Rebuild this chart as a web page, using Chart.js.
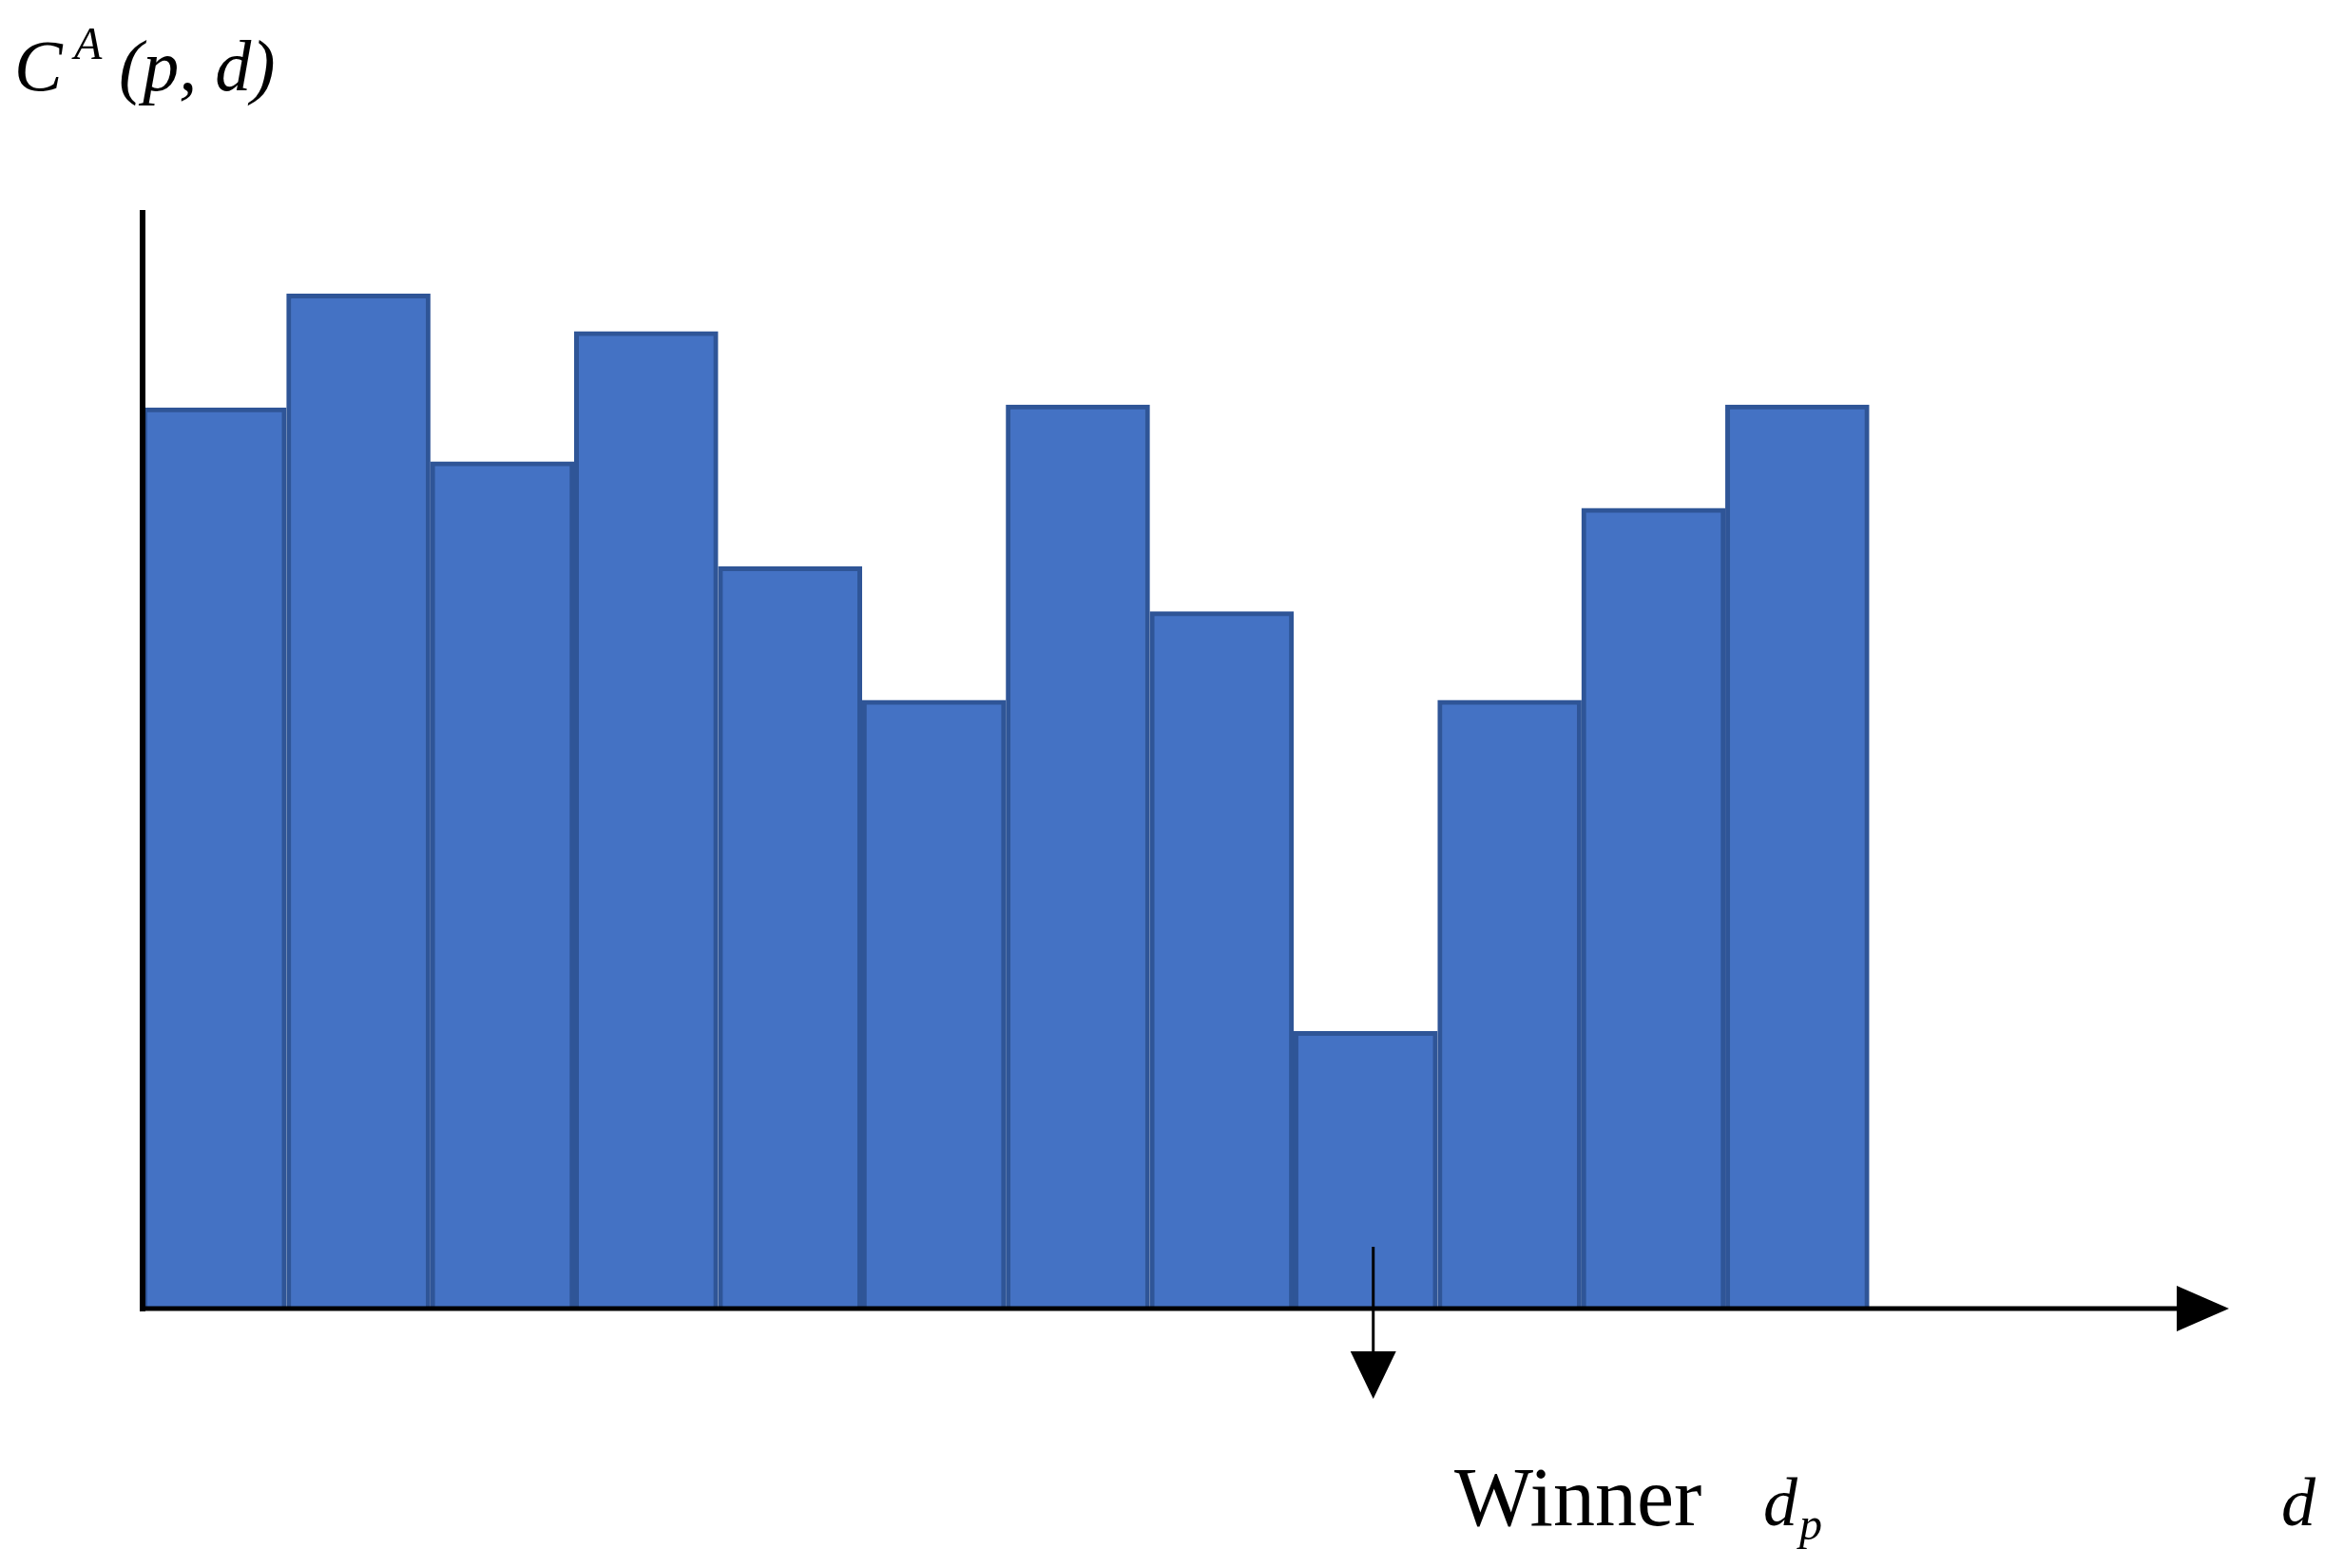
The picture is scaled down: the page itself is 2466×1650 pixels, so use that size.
<!DOCTYPE html>
<html>
<head>
<meta charset="utf-8">
<script src="https://cdn.jsdelivr.net/npm/chart.js@4"></script>
<style>
  body { margin: 0; background: #fff; }
  canvas { display: block; }
</style>
</head>
<body>
<canvas id="grafico" width="2466" height="1650"></canvas>
<script>
// bar heights (arbitrary units)
const bins = [1, 2, 3, 4, 5, 6, 7, 8, 9, 10, 11, 12];
const custo = [601, 677, 565, 652, 495, 406, 603, 465, 185, 406, 534, 603];
const vencedor = 8; // index of the lowest bar
const yMax = 733;
const xMax = 14.5;

const pontos = custo.map((v, i) => ({ x: i + 0.5, y: v }));

const eixos = {
  id: 'eixos',
  afterDatasetsDraw(chart) {
    const { ctx, chartArea: a, scales } = chart;
    ctx.save();
    ctx.strokeStyle = '#000';
    ctx.fillStyle = '#000';
    // y axis
    ctx.lineWidth = 6;
    ctx.beginPath();
    ctx.moveTo(a.left, a.top);
    ctx.lineTo(a.left, a.bottom + 3);
    ctx.stroke();
    // x axis with arrow head
    ctx.lineWidth = 5;
    ctx.beginPath();
    ctx.moveTo(a.left, a.bottom);
    ctx.lineTo(a.right - 45, a.bottom);
    ctx.stroke();
    ctx.beginPath();
    ctx.moveTo(a.right, a.bottom);
    ctx.lineTo(a.right - 55, a.bottom - 24);
    ctx.lineTo(a.right - 55, a.bottom + 24);
    ctx.closePath();
    ctx.fill();
    // arrow below the winner bar
    const xv = scales.x.getPixelForValue(vencedor + 0.5) + 8;
    ctx.lineWidth = 3;
    ctx.beginPath();
    ctx.moveTo(xv, a.bottom - 65);
    ctx.lineTo(xv, a.bottom + 50);
    ctx.stroke();
    ctx.beginPath();
    ctx.moveTo(xv, a.bottom + 95);
    ctx.lineTo(xv - 24, a.bottom + 45);
    ctx.lineTo(xv + 24, a.bottom + 45);
    ctx.closePath();
    ctx.fill();
    // labels
    ctx.textBaseline = 'alphabetic';
    ctx.font = 'italic 76px "Liberation Serif"';
    ctx.fillText('C', 15, 95);
    ctx.font = 'italic 48px "Liberation Serif"';
    ctx.fillText('A', 78, 62);
    ctx.font = 'italic 76px "Liberation Serif"';
    ctx.fillText('(p, d)', 125, 95);
    ctx.font = '88px "Liberation Serif"';
    ctx.fillText('Winner', 1530, 1605);
    ctx.font = 'italic 72px "Liberation Serif"';
    ctx.fillText('d', 1855, 1605);
    ctx.font = 'italic 48px "Liberation Serif"';
    ctx.fillText('p', 1893, 1620);
    ctx.font = 'italic 72px "Liberation Serif"';
    ctx.fillText('d', 2400, 1605);
    ctx.restore();
  }
};

new Chart(document.getElementById('grafico'), {
  type: 'bar',
  data: {
    labels: bins,
    datasets: [{
      data: pontos,
      backgroundColor: '#4472C4',
      borderColor: '#2F5597',
      borderWidth: 5,
      barThickness: 151
    }]
  },
  options: {
    responsive: false,
    animation: false,
    devicePixelRatio: 1,
    layout: { padding: { left: 150, right: 121, top: 221, bottom: 273 } },
    plugins: { legend: { display: false }, tooltip: { enabled: false } },
    scales: {
      x: { type: 'linear', min: 0, max: xMax, offset: false, display: false },
      y: { min: 0, max: yMax, display: false }
    }
  },
  plugins: [eixos]
});
</script>
</body>
</html>
